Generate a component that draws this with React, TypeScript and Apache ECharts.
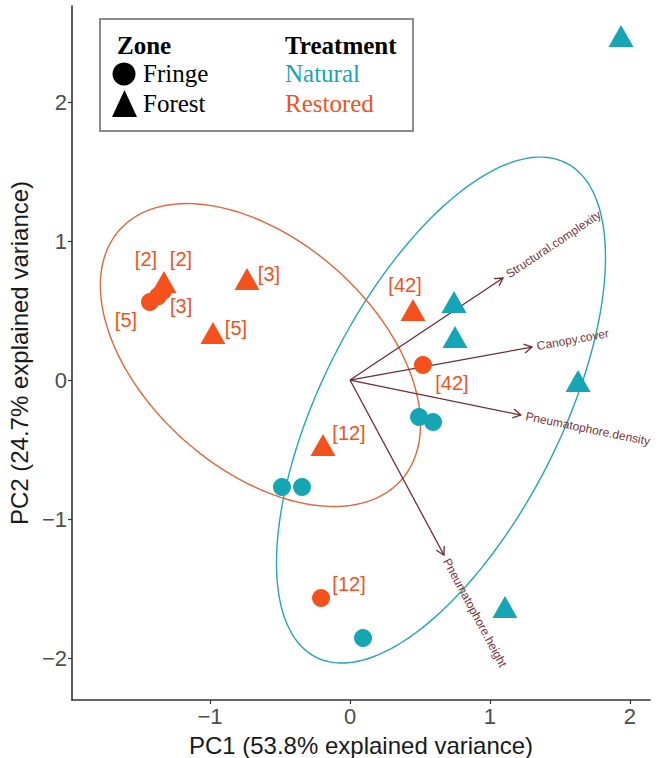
import React, { useEffect, useRef } from "react";
import * as echarts from "echarts";

// ---- Data ----
const RESTORED_SITES = ["[2]", "[3]", "[5]", "[42]", "[12]"];
const restoredForestPC1 = [-1.329, -0.736, -0.979, 0.45, -0.193];
const restoredForestPC2 = [0.705, 0.727, 0.338, 0.504, -0.468];
const restoredFringePC1 = [-1.336, -1.371, -1.429, 0.521, -0.207];
const restoredFringePC2 = [0.64, 0.604, 0.561, 0.108, -1.568];

const naturalForestPC1 = [1.936, 0.743, 0.75, 1.629, 1.107];
const naturalForestPC2 = [2.475, 0.561, 0.309, -0.007, -1.633];
const naturalFringePC1 = [0.493, 0.593, -0.486, -0.343, 0.093];
const naturalFringePC2 = [-0.266, -0.302, -0.77, -0.77, -1.856];

const VARIABLES = ["Structural.complexity", "Canopy.cover", "Pneumatophore.density", "Pneumatophore.height"];
const LOADING_PC1 = [1.093, 1.3, 1.22, 0.671];
const LOADING_PC2 = [0.734, 0.237, -0.252, -1.259];

const ELLIPSE_TREATMENTS = ["Natural", "Restored"];
const ELLIPSE_CENTER_PC1 = [0.65, -0.64];
const ELLIPSE_CENTER_PC2 = [-0.216, 0.18];
const ELLIPSE_SEMI_MAJOR = [1.99, 1.35];
const ELLIPSE_SEMI_MINOR = [0.857, 0.82];
const ELLIPSE_ANGLE_DEG = [63.4, -42];

const X_TICKS = [-1, 0, 1, 2];
const Y_TICKS = [-2, -1, 0, 1, 2];

// ---- Styles (label placement offsets in px) ----
const restoredForestLabelOffset = [[17, -23], [22, -5], [23, -5], [-8, -25], [26, -12]];
const restoredFringeLabelOffset = [[-17, -32], [23, 10], [-24, 18], [29, 18], [28, -14]];

const TEAL = "#16A5B4";
const ORANGE = "#F5511C";
const ELLIPSE_COLORS = ["#22A7B5", "#E2663A"];
const ARROW_COLOR = "#6E2C38";
const SANS = "'Liberation Sans', Arial, sans-serif";
const SERIF = "'Liberation Serif', 'Times New Roman', serif";

const CIRCLE_SIZE = 18;
const TRI_SIZE = [25, 22];

const fmt = (v: number) => (v < 0 ? "\u2212" + Math.abs(v) : String(v));

export default function App() {
  const ref = useRef<HTMLDivElement>(null);
  useEffect(() => {
    document.body.style.margin = "0";
    const chart = echarts.init(ref.current!, null, { renderer: "svg" });

    const naturalData: any[] = [];
    naturalForestPC1.forEach((x, i) =>
      naturalData.push({ value: [x, naturalForestPC2[i]], symbol: "triangle", symbolSize: TRI_SIZE })
    );
    naturalFringePC1.forEach((x, i) =>
      naturalData.push({ value: [x, naturalFringePC2[i]], symbol: "circle", symbolSize: CIRCLE_SIZE })
    );

    const restoredData: any[] = [];
    const lbl = (name: string, off: number[]) => ({
      show: true,
      formatter: name,
      position: "inside",
      offset: off,
      color: ORANGE,
      fontSize: 20,
      fontFamily: SANS,
    });
    restoredFringePC1.forEach((x, i) =>
      restoredData.push({
        value: [x, restoredFringePC2[i]],
        symbol: "circle",
        symbolSize: CIRCLE_SIZE,
        label: lbl(RESTORED_SITES[i], restoredFringeLabelOffset[i]),
      })
    );
    restoredForestPC1.forEach((x, i) =>
      restoredData.push({
        value: [x, restoredForestPC2[i]],
        symbol: "triangle",
        symbolSize: TRI_SIZE,
        label: lbl(RESTORED_SITES[i], restoredForestLabelOffset[i]),
      })
    );

    const ellipseData = ELLIPSE_TREATMENTS.map((_, i) => [
      ELLIPSE_CENTER_PC1[i],
      ELLIPSE_CENTER_PC2[i],
      ELLIPSE_SEMI_MAJOR[i],
      ELLIPSE_SEMI_MINOR[i],
      ELLIPSE_ANGLE_DEG[i],
    ]);

    const arrowData = VARIABLES.map((_, i) => [LOADING_PC1[i], LOADING_PC2[i], i]);

    const axisCommon = {
      type: "value",
      splitLine: { show: false },
      axisLine: { show: true, onZero: false, lineStyle: { color: "#333333", width: 1.6 } },
      axisTick: { show: true, length: 4, lineStyle: { color: "#333333", width: 1.2 } },
      nameLocation: "middle",
      nameTextStyle: { color: "#1a1a1a", fontSize: 24, fontFamily: SANS },
    };

    chart.setOption({
      animation: false,
      grid: { left: 72, top: 6, width: 578, height: 694, outerBoundsMode: "none" },
      xAxis: {
        ...axisCommon,
        min: -1.986,
        max: 2.143,
        axisTick: { ...axisCommon.axisTick, customValues: X_TICKS },
        axisLabel: { customValues: X_TICKS, formatter: fmt, color: "#4d4d4d", fontSize: 22, margin: 5, fontFamily: SANS },
        name: "PC1 (53.8% explained variance)",
        nameGap: 33,
      },
      yAxis: {
        ...axisCommon,
        min: -2.302,
        max: 2.691,
        axisTick: { ...axisCommon.axisTick, customValues: Y_TICKS },
        axisLabel: { customValues: Y_TICKS, formatter: fmt, color: "#4d4d4d", fontSize: 22, margin: 5, fontFamily: SANS },
        name: "PC2 (24.7% explained variance)",
        nameGap: 38,
      },
      series: [
        {
          type: "custom",
          z: 1,
          silent: true,
          data: ellipseData,
          renderItem: (params: any, api: any) => {
            const cx = api.value(0);
            const cy = api.value(1);
            const a = api.value(2);
            const b = api.value(3);
            const ang = (api.value(4) * Math.PI) / 180;
            const pts: number[][] = [];
            const N = 160;
            for (let k = 0; k <= N; k++) {
              const t = (2 * Math.PI * k) / N;
              const ex = a * Math.cos(t);
              const ey = b * Math.sin(t);
              pts.push(
                api.coord([cx + ex * Math.cos(ang) - ey * Math.sin(ang), cy + ex * Math.sin(ang) + ey * Math.cos(ang)])
              );
            }
            return {
              type: "polyline",
              shape: { points: pts },
              style: { fill: "none", stroke: ELLIPSE_COLORS[params.dataIndex], lineWidth: 1.4 },
            };
          },
        },
        {
          type: "custom",
          z: 2,
          silent: true,
          data: arrowData,
          renderItem: (params: any, api: any) => {
            const o = api.coord([0, 0]);
            const tip = api.coord([api.value(0), api.value(1)]);
            const ang = Math.atan2(tip[1] - o[1], tip[0] - o[0]);
            const L = 9;
            const w = Math.PI / 6;
            const p1 = [tip[0] - L * Math.cos(ang - w), tip[1] - L * Math.sin(ang - w)];
            const p2 = [tip[0] - L * Math.cos(ang + w), tip[1] - L * Math.sin(ang + w)];
            const gap = 5;
            return {
              type: "group",
              children: [
                {
                  type: "line",
                  shape: { x1: o[0], y1: o[1], x2: tip[0], y2: tip[1] },
                  style: { stroke: ARROW_COLOR, lineWidth: 1.3 },
                },
                {
                  type: "polyline",
                  shape: { points: [p1, tip, p2] },
                  style: { fill: "none", stroke: ARROW_COLOR, lineWidth: 1.3 },
                },
                {
                  type: "text",
                  x: tip[0] + gap * Math.cos(ang),
                  y: tip[1] + gap * Math.sin(ang),
                  rotation: -ang,
                  style: {
                    text: VARIABLES[api.value(2)],
                    fill: "#7A333D",
                    fontSize: 12,
                    fontFamily: SANS,
                    align: "left",
                    verticalAlign: "middle",
                  },
                },
              ],
            };
          },
        },
        {
          name: "Natural",
          type: "scatter",
          z: 3,
          itemStyle: { color: TEAL, opacity: 1 },
          data: naturalData,
        },
        {
          name: "Restored",
          type: "scatter",
          z: 4,
          itemStyle: { color: ORANGE, opacity: 1 },
          data: restoredData,
        },
      ],
      graphic: [
        {
          type: "group",
          z: 100,
          children: [
            {
              type: "rect",
              shape: { x: 100, y: 19, width: 313, height: 112 },
              style: { fill: "#ffffff", stroke: "#8c8c8c", lineWidth: 2 },
            },
            {
              type: "text",
              x: 117,
              y: 45,
              style: { text: "Zone", font: `bold 25px ${SERIF}`, fill: "#000", verticalAlign: "middle" },
            },
            { type: "circle", shape: { cx: 124, cy: 74, r: 11.5 }, style: { fill: "#000" } },
            {
              type: "text",
              x: 143,
              y: 73,
              style: { text: "Fringe", font: `25px ${SERIF}`, fill: "#000", verticalAlign: "middle" },
            },
            {
              type: "polygon",
              shape: { points: [[124.5, 90], [112, 117], [137, 117]] },
              style: { fill: "#000" },
            },
            {
              type: "text",
              x: 143,
              y: 103,
              style: { text: "Forest", font: `25px ${SERIF}`, fill: "#000", verticalAlign: "middle" },
            },
            {
              type: "text",
              x: 285,
              y: 45,
              style: { text: "Treatment", font: `bold 25px ${SERIF}`, fill: "#000", verticalAlign: "middle" },
            },
            {
              type: "text",
              x: 285,
              y: 73,
              style: { text: "Natural", font: `25px ${SERIF}`, fill: TEAL, verticalAlign: "middle" },
            },
            {
              type: "text",
              x: 285,
              y: 103,
              style: { text: "Restored", font: `25px ${SERIF}`, fill: ORANGE, verticalAlign: "middle" },
            },
          ],
        },
      ],
    });
    return () => chart.dispose();
  }, []);
  return <div ref={ref} style={{ width: 659, height: 758 }} />;
}
